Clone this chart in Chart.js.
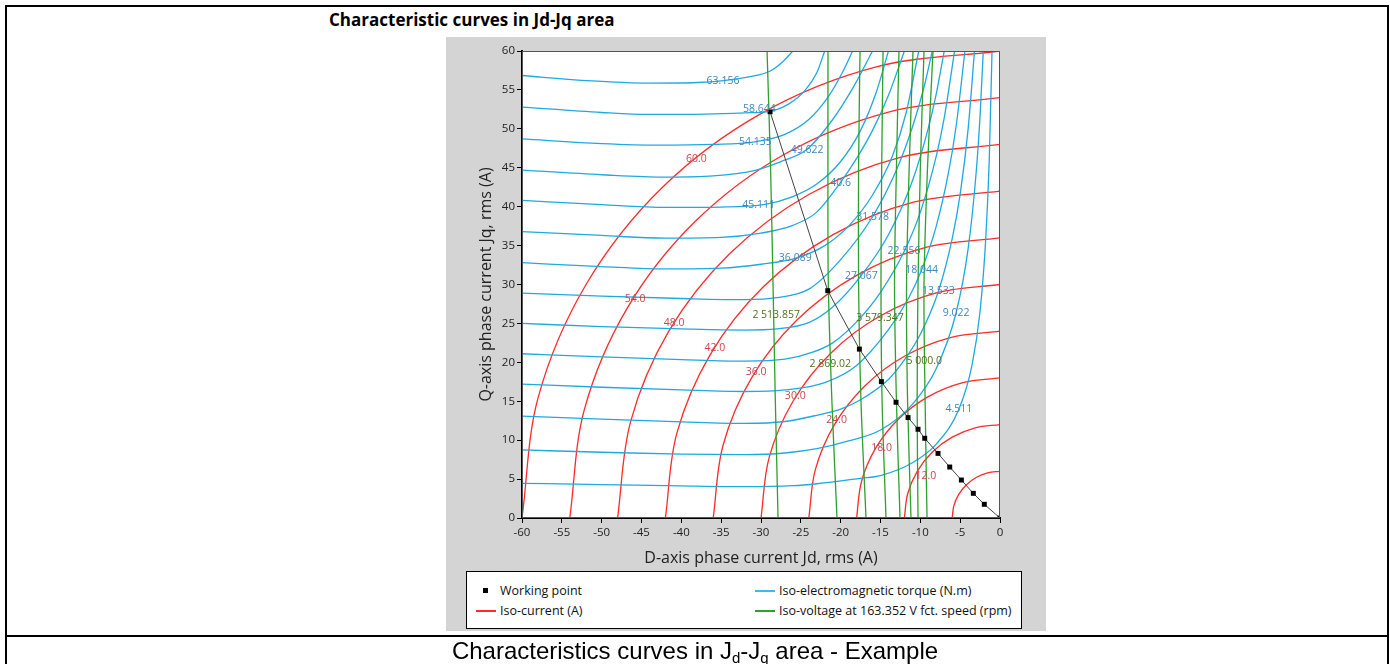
<!DOCTYPE html>
<html><head><meta charset="utf-8">
<script src="https://cdn.jsdelivr.net/npm/chart.js@4.4.1/dist/chart.umd.min.js"></script>
<style>
html,body{margin:0;padding:0;background:#fff;width:1390px;height:664px;overflow:hidden;font-family:"Open Sans",sans-serif;}
#frame{position:absolute;left:5px;top:5px;width:1384px;height:670px;border:2px solid #000;box-sizing:border-box;}
#capline{position:absolute;left:5px;top:635px;width:1384px;height:2px;background:#000;}
#title{position:absolute;left:329px;top:8px;font:700 17px "Open Sans";color:#000;white-space:nowrap;}
#panel{position:absolute;left:446px;top:37px;width:600px;height:594px;background:#d4d4d4;}
#chartwrap{position:absolute;left:0;top:0;width:1390px;height:664px;}
#legend{position:absolute;left:466px;top:571px;width:556px;height:58px;border:1px solid #000;background:#fff;box-sizing:border-box;font:12.5px "Open Sans";color:#111;}
.li{position:absolute;white-space:nowrap;line-height:16px;}
.sw{position:absolute;height:1.5px;width:20px;}
.sq{position:absolute;width:5px;height:5px;background:#000;}
#caption{position:absolute;left:0;width:1390px;top:638px;text-align:center;font:24px "Liberation Sans",Arial,sans-serif;color:#000;line-height:26px;}
#caption sub{font-size:15px;vertical-align:-4px;line-height:0;}
</style>
</head><body>
<div id="frame"></div>
<div id="capline"></div>
<div id="title">Characteristic curves in Jd-Jq area</div>
<div id="panel"></div>
<div id="chartwrap"><canvas id="c" width="1390" height="664"></canvas></div>
<div id="legend">
  <div class="sq" style="left:16px;top:16px;"></div>
  <div class="li" style="left:33px;top:11px;">Working point</div>
  <div class="sw" style="left:9px;top:38px;background:#ff2a2a;"></div>
  <div class="li" style="left:33px;top:31px;">Iso-current (A)</div>
  <div class="sw" style="left:288px;top:18px;background:#3fb8ea;"></div>
  <div class="li" style="left:312px;top:11px;">Iso-electromagnetic torque (N.m)</div>
  <div class="sw" style="left:288px;top:38px;background:#2ea02e;"></div>
  <div class="li" style="left:312px;top:31px;">Iso-voltage at 163.352 V fct. speed (rpm)</div>
</div>
<div id="caption">Characteristics curves in J<sub>d</sub>-J<sub>q</sub> area - Example</div>
<script>
// ---------- axis ----------
const xRange = [-60, 0];
const yRange = [0, 60];
const tickStep = 5;

// ---------- iso-current quarter circles [Jd, Jq] ----------
const isoCurrent6  = [[-6,0],[-5.8,1.55],[-5.2,3],[-4.24,4.24],[-3,5.2],[-1.55,5.8],[0,6]];
const isoCurrent12 = [[-12,0],[-11.59,3.11],[-10.39,6],[-8.49,8.49],[-6,10.39],[-3.11,11.59],[0,12]];
const isoCurrent18 = [[-18,0],[-17.39,4.66],[-15.59,9],[-12.73,12.73],[-9,15.59],[-4.66,17.39],[0,18]];
const isoCurrent24 = [[-24,0],[-23.18,6.21],[-20.78,12],[-16.97,16.97],[-12,20.78],[-6.21,23.18],[0,24]];
const isoCurrent30 = [[-30,0],[-28.98,7.76],[-25.98,15],[-21.21,21.21],[-15,25.98],[-7.76,28.98],[0,30]];
const isoCurrent36 = [[-36,0],[-34.77,9.32],[-31.18,18],[-25.46,25.46],[-18,31.18],[-9.32,34.77],[0,36]];
const isoCurrent42 = [[-42,0],[-40.57,10.87],[-36.37,21],[-29.7,29.7],[-21,36.37],[-10.87,40.57],[0,42]];
const isoCurrent48 = [[-48,0],[-46.36,12.42],[-41.57,24],[-33.94,33.94],[-24,41.57],[-12.42,46.36],[0,48]];
const isoCurrent54 = [[-54,0],[-52.16,13.98],[-46.77,27],[-38.18,38.18],[-27,46.77],[-13.98,52.16],[0,54]];
const isoCurrent60 = [[-60,0],[-57.96,15.53],[-51.96,30],[-42.43,42.43],[-30,51.96],[-15.53,57.96],[0,60]];

// ---------- iso-torque curves [Jd, Jq] ----------
const torque4511  = [[-60,4.46],[-50,4.3],[-40,4.12],[-32,4.02],[-26,4.15],[-23,4.4],[-17.5,5.1],[-15,5.45],[-11,7.1],[-8,9.5],[-5.15,14],[-3.5,19.7],[-2.5,26.6],[-1.8,35.7],[-1.35,46],[-1,60]];
const torque9022  = [[-60,8.74],[-50,8.45],[-40,8.2],[-32,8.15],[-27,8.35],[-23,8.9],[-19,9.9],[-15,11.3],[-11,14.6],[-8,19.2],[-5.5,26.4],[-4,34.6],[-3,44.3],[-2.5,51.7],[-2.1,60]];
const torque13533 = [[-60,13.1],[-50,12.7],[-40,12.35],[-32,12.15],[-27,12.4],[-23,13.2],[-20,14],[-17.5,15.2],[-14,17.8],[-12,20.3],[-10,23.6],[-7.74,29.1],[-6,35.9],[-5,41.6],[-4,50],[-3.2,60]];
const torque18044 = [[-60,17.2],[-50,16.8],[-40,16.45],[-32,16.25],[-27,16.45],[-22,17.4],[-18,19.6],[-14,24.2],[-11.5,28.2],[-9.83,31.9],[-8,37.5],[-6.5,44.2],[-5.5,50.4],[-4.4,60]];
const torque22556 = [[-60,21.1],[-50,20.7],[-40,20.35],[-32,20.15],[-27,20.4],[-23.5,21.3],[-21,22.5],[-18,25.2],[-15,29],[-12.05,34.2],[-10,39.3],[-8,46.5],[-7,51.4],[-5.7,60]];
const torque27067 = [[-60,25],[-50,24.6],[-40,24.3],[-32,24.15],[-28,24.3],[-24,25.1],[-21,27.1],[-17.45,31.1],[-14,36.4],[-11,43.3],[-9,50.1],[-8,54.5],[-7,60]];
const torque31578 = [[-60,28.9],[-50,28.5],[-40,28.2],[-32,28.05],[-28,28.3],[-24,29.4],[-20,33.2],[-16,38.7],[-13,44.7],[-11,50.2],[-9.5,55.5],[-8.5,60]];
const torque36089 = [[-60,32.8],[-50,32.3],[-42,32],[-35,32.1],[-30,32.6],[-25.6,33.4],[-22,35],[-19,37.5],[-16,41.5],[-13.5,46.5],[-11.8,52],[-10.2,60]];
const torque40600 = [[-60,36.8],[-50,36.3],[-42,35.95],[-35,36.05],[-30,36.6],[-26,37.6],[-23,39.3],[-20.1,43],[-18,46.2],[-16,49.8],[-14,54.3],[-12,60]];
const torque45111 = [[-60,40.8],[-50,40.25],[-42,39.9],[-35,39.95],[-29.5,40.3],[-26,41.3],[-23,42.9],[-20,45.8],[-17.5,49.8],[-15.5,54.8],[-14,60]];
const torque49622 = [[-60,44.7],[-50,44.1],[-42,43.8],[-36,43.95],[-31,44.6],[-27.5,45.8],[-24.3,47.3],[-21,51.2],[-18.5,55.2],[-16,60]];
const torque54135 = [[-60,48.7],[-50,48.1],[-43,47.9],[-36,48],[-31,48.3],[-27,49.3],[-24,51.2],[-21.5,54.2],[-19.8,57.2],[-18.5,60]];
const torque58644 = [[-60,52.8],[-50,52.1],[-44,51.85],[-37,51.9],[-32,52.05],[-28.86,52.25],[-26.5,53.2],[-24.5,54.9],[-23,57.2],[-22,60]];
const torque63156 = [[-60,56.85],[-52,56.2],[-44,55.87],[-38,55.95],[-34.7,56.2],[-31.4,56.7],[-28.9,57.4],[-27.3,58.6],[-26,60]];
const torque67667 = [[-54,60.3],[-45.7,59.99],[-37,60.3]];

// ---------- iso-voltage (speed) curves [Jd, Jq] ----------
const speed2513 = [[-27.86,0],[-28.2,15],[-28.49,30],[-28.8,45],[-29.24,60]];
const speed2869 = [[-20.46,0],[-21.1,15],[-21.55,30],[-21.6,45],[-21.59,60]];
const speed3224 = [[-16.82,0],[-17.45,15],[-17.75,30],[-17.75,45],[-17.57,60]];
const speed3579 = [[-14.31,0],[-14.8,15],[-14.94,30],[-14.85,45],[-14.68,60]];
const speed3934 = [[-12.55,0],[-13,15],[-13.24,30],[-13,45],[-12.68,60]];
const speed4289 = [[-11.17,0],[-11.6,15],[-11.73,30],[-11.4,45],[-10.92,60]];
const speed4644 = [[-10.29,0],[-10.4,15],[-10.29,30],[-10,45],[-9.54,60]];
const speed5000 = [[-9.16,0],[-9.4,15],[-9.54,30],[-9.1,45],[-8.41,60]];

// ---------- working points [Jd, Jq] ----------
const workingPoints = [[0,0],[-1.97,1.76],[-3.35,3.17],[-4.85,4.88],[-6.31,6.55],[-7.78,8.3],[-9.45,10.24],[-10.29,11.4],[-11.54,12.9],[-13.05,14.87],[-14.89,17.52],[-17.65,21.7],[-21.62,29.2],[-28.86,52.2]];

// ---------- curve labels [text, Jd, Jq] ----------
const currentLabels = [['60.0',-38.1,46.1],['54.0',-45.8,28.1],['48.0',-40.9,25.0],['42.0',-35.8,21.8],['36.0',-30.6,18.8],['30.0',-25.7,15.7],['24.0',-20.5,12.6],['18.0',-14.85,9.0],['12.0',-9.3,5.45]];
const torqueLabels = [['63.156',-34.77,56.2],['58.644',-30.2,52.6],['54.135',-30.7,48.3],['49.622',-24.2,47.3],['45.111',-30.3,40.2],['40.6',-20.0,43.0],['36.089',-25.7,33.4],['31.578',-16.0,38.7],['27.067',-17.4,31.1],['22.556',-12.05,34.3],['18.044',-9.83,31.9],['13.533',-7.74,29.1],['9.022',-5.52,26.4],['4.511',-5.15,14.0]];
const speedLabels = [['2 513.857',-28.1,26.1],['2 869.02',-21.3,19.75],['3 579.347',-15.06,25.7],['5 000.0',-9.5,20.2]];

const xTitle = 'D-axis phase current Jd, rms (A)';
const yTitle = 'Q-axis phase current Jq, rms (A)';

// ---------- build ----------
const RED = '#ff2a2a', BLUE = '#1fa9e1', GREEN = '#2ea02e';
const pts = a => a.map(p => ({x: p[0], y: p[1]}));
const datasets = [];
datasets.push({label: 'Working point', data: pts(workingPoints), showLine: true, borderColor: '#444', borderWidth: 1,
  pointStyle: 'rect', pointRadius: 3.5, pointBackgroundColor: '#000', pointBorderColor: '#000', pointBorderWidth: 0, tension: 0});
[speed2513, speed2869, speed3224, speed3579, speed3934, speed4289, speed4644, speed5000].forEach(s =>
  datasets.push({label: 'Iso-voltage', data: pts(s), showLine: true, borderColor: GREEN, borderWidth: 1.3, pointRadius: 0, tension: 0.3}));
[torque4511, torque9022, torque13533, torque18044, torque22556, torque27067, torque31578, torque36089, torque40600, torque45111, torque49622, torque54135, torque58644, torque63156, torque67667].forEach(s =>
  datasets.push({label: 'Iso-torque', data: pts(s), showLine: true, borderColor: BLUE, borderWidth: 1.3, pointRadius: 0, cubicInterpolationMode: 'monotone'}));
[isoCurrent6, isoCurrent12, isoCurrent18, isoCurrent24, isoCurrent30, isoCurrent36, isoCurrent42, isoCurrent48, isoCurrent54, isoCurrent60].forEach(s =>
  datasets.push({label: 'Iso-current', data: pts(s), showLine: true, borderColor: RED, borderWidth: 1.3, pointRadius: 0, tension: 0.34}));

const plotFrame = {
  id: 'plotFrame',
  beforeDatasetsDraw(chart) {
    const {ctx, chartArea: a} = chart;
    ctx.save(); ctx.fillStyle = '#fff'; ctx.fillRect(a.left, a.top, a.right - a.left, a.bottom - a.top); ctx.restore();
  },
  afterDatasetsDraw(chart) {
    const {ctx, chartArea: a, scales} = chart;
    ctx.save();
    ctx.beginPath(); ctx.rect(a.left, a.top, a.right - a.left, a.bottom - a.top); ctx.clip();
    ctx.font = '10.5px "Open Sans"'; ctx.textAlign = 'center'; ctx.textBaseline = 'middle';
    const put = (arr, col) => { ctx.fillStyle = col; arr.forEach(l => ctx.fillText(l[0], scales.x.getPixelForValue(l[1]), scales.y.getPixelForValue(l[2]))); };
    put(currentLabels, '#c8464e');
    put(torqueLabels, '#3c87bb');
    put(speedLabels, '#55701c');
    ctx.restore();
    ctx.save(); ctx.strokeStyle = '#555'; ctx.lineWidth = 1;
    ctx.strokeRect(a.left + 0.5, a.top + 0.5, a.right - a.left - 1, a.bottom - a.top - 1);
    ctx.restore();
  }
};

Chart.defaults.font.family = '"Open Sans", sans-serif';
new Chart(document.getElementById('c'), {
  type: 'scatter',
  data: {datasets},
  plugins: [plotFrame],
  options: {
    responsive: false, animation: false, devicePixelRatio: 1,
    layout: {padding: {left: 446, right: 390, top: 51, bottom: 96}},
    plugins: {legend: {display: false}, tooltip: {enabled: false}},
    scales: {
      x: {type: 'linear', min: xRange[0], max: xRange[1],
        ticks: {stepSize: tickStep, color: '#222', font: {size: 11.5}, padding: 3, maxRotation: 0},
        grid: {drawOnChartArea: false, drawTicks: true, tickLength: 5, color: '#000'},
        border: {display: true, color: '#000', width: 2},
        title: {display: true, text: xTitle, color: '#222', font: {size: 16}, padding: {top: 0, bottom: 0}},
        afterFit(s) { s.height = 50; s.paddingLeft = 0; s.paddingRight = 0; }
      },
      y: {type: 'linear', min: yRange[0], max: yRange[1],
        ticks: {stepSize: tickStep, color: '#222', font: {size: 11.5}, padding: 2},
        grid: {drawOnChartArea: false, drawTicks: true, tickLength: 5, color: '#000'},
        border: {display: true, color: '#000', width: 2},
        title: {display: true, text: yTitle, color: '#222', font: {size: 16}, padding: {top: 31, bottom: 0}},
        afterFit(s) { s.width = 76; s.paddingTop = 0; s.paddingBottom = 0; }
      }
    }
  }
});
</script>
</body></html>
